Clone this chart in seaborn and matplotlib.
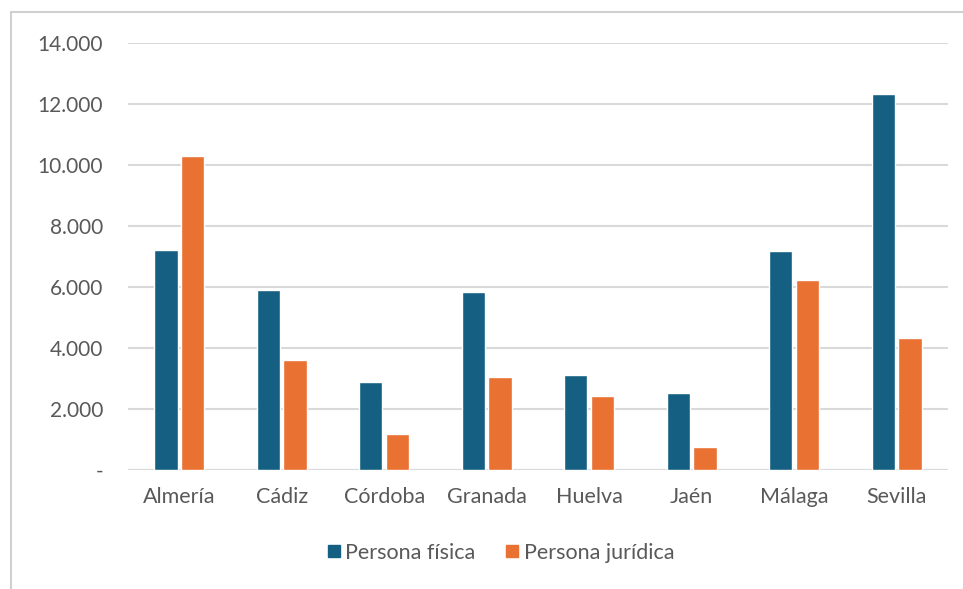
import matplotlib
matplotlib.use("Agg")
import matplotlib.pyplot as plt
import matplotlib.ticker as mticker
from matplotlib.lines import Line2D
import seaborn as sns
import pandas as pd

# Provinces of Andalucía and counts per type of person
provincias = ["Almería", "Cádiz", "Córdoba", "Granada", "Huelva", "Jaén", "Málaga", "Sevilla"]
persona_fisica = [7200, 5900, 2900, 5830, 3110, 2510, 7170, 12330]
persona_juridica = [10300, 3600, 1180, 3040, 2440, 770, 6230, 4330]
series = ["Persona física", "Persona jurídica"]
y_ticks = [0, 2000, 4000, 6000, 8000, 10000, 12000, 14000]

df = pd.DataFrame({
    "provincia": provincias * 2,
    "valor": persona_fisica + persona_juridica,
    "tipo": [series[0]] * len(provincias) + [series[1]] * len(provincias),
})

colors = ["#156082", "#E97132"]
text_color = "#595959"
grid_color = "#D9D9D9"

sns.set_theme(style="white")
plt.rcParams["font.family"] = ["Lato", "DejaVu Sans"]

fig = plt.figure(figsize=(9.63, 5.89), dpi=100)
ax = fig.add_axes([0.1329, 0.2020, 0.8515, 0.7250])

sns.barplot(data=df, x="provincia", y="valor", hue="tipo", palette=colors,
            width=0.52, gap=0.13, ax=ax, legend=False, saturation=1)

ax.set_xlim(-0.5, len(provincias) - 0.5)
ax.set_ylim(0, 14000)
ax.set_yticks(y_ticks)


def fmt(v, _):
    if v == 0:
        return "-"
    return f"{int(v):,}".replace(",", ".")


ax.yaxis.set_major_formatter(mticker.FuncFormatter(fmt))
ax.grid(axis="y", color=grid_color, linewidth=1.5)
ax.set_axisbelow(True)
for s in ax.spines.values():
    s.set_visible(False)
ax.axhline(0, color=grid_color, linewidth=1.5, zorder=0.5)

ax.tick_params(axis="y", length=0, pad=18, labelsize=15, labelcolor=text_color)
ax.tick_params(axis="x", length=0, pad=12, labelsize=15.5, labelcolor=text_color)
ax.set_xlabel("")
ax.set_ylabel("")

handles = [Line2D([0], [0], marker="s", linestyle="", markersize=8.6,
                  markerfacecolor=c, markeredgecolor=c) for c in colors]
leg = fig.legend(handles, series, loc="center", bbox_to_anchor=(0.519, 1 - 553 / 589),
                 ncol=2, frameon=False, fontsize=15.5, handletextpad=0.15,
                 columnspacing=1.3, handlelength=0.8)
for t in leg.get_texts():
    t.set_color(text_color)

# light frame around the chart area
x0 = 11 / 963
y_top = 1 - 12 / 589
fig.add_artist(Line2D([x0, x0], [0, y_top], color="#D0D0D0", linewidth=1.5,
                      transform=fig.transFigure))
fig.add_artist(Line2D([x0, 1], [y_top, y_top], color="#D0D0D0", linewidth=1.5,
                      transform=fig.transFigure))

fig.savefig("out.png", dpi=100, facecolor="white")
